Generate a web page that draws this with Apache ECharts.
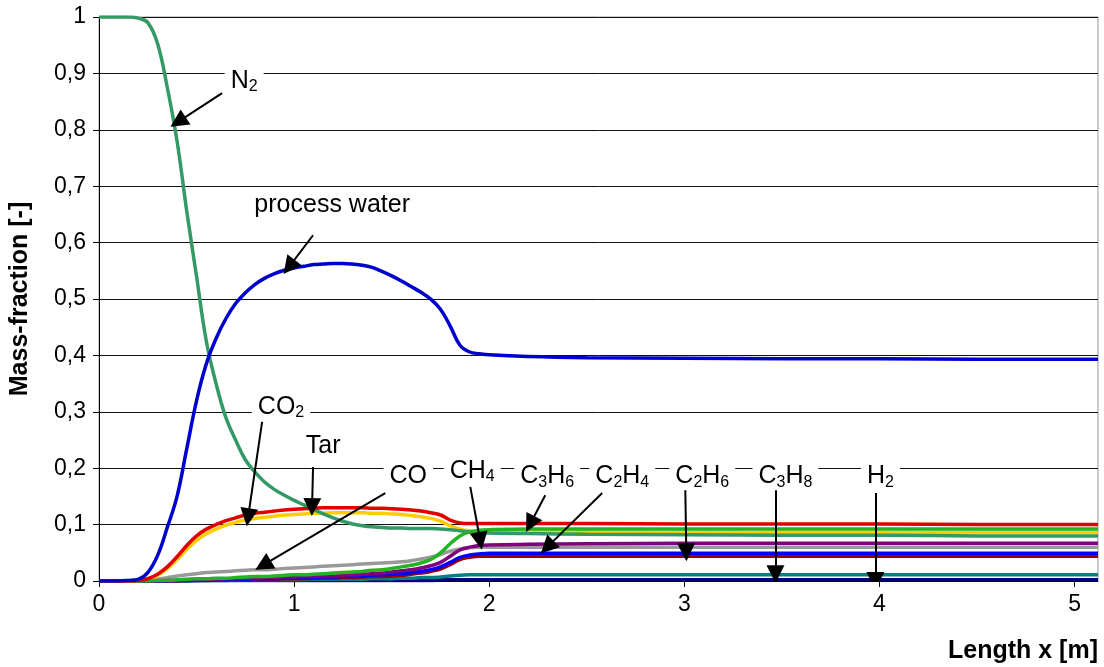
<!DOCTYPE html>
<html>
<head>
<meta charset="utf-8">
<script src="https://cdn.jsdelivr.net/npm/echarts@6/dist/echarts.min.js"></script>
<style>
html,body{margin:0;padding:0;background:#fff;}
#chart{width:1104px;height:667px;}
</style>
</head>
<body>
<div id="chart"></div>
<script>
// ---- data ----
const xs = [0,0.05,0.1,0.15,0.2,0.25,0.3,0.35,0.4,0.45,
            0.5,0.55,0.6,0.65,0.7,0.75,0.8,0.85,0.9,0.95,
            1.0,1.05,1.1,1.15,1.2,1.25,1.3,1.35,1.4,1.45,
            1.5,1.55,1.6,1.65,1.7,1.75,1.8,1.85,1.9,1.95,
            2.0,2.2,2.5,3.0,3.5,4.0,4.5,5.12];
const yN2   = [1,1,1,1,0.998,0.99,0.953,0.875,0.78,0.655,
               0.54,0.425,0.35,0.29,0.25,0.215,0.193,0.175,0.162,0.152,
               0.143,0.135,0.127,0.119,0.112,0.106,0.101,0.098,0.096,0.095,
               0.094,0.094,0.093,0.093,0.093,0.092,0.091,0.089,0.087,0.086,
               0.085,0.084,0.083,0.082,0.081,0.081,0.080,0.080];
const yWater= [0,0,0,0.001,0.003,0.015,0.045,0.095,0.15,0.235,
               0.32,0.385,0.43,0.465,0.492,0.511,0.526,0.537,0.545,0.551,
               0.555,0.558,0.561,0.562,0.563,0.563,0.562,0.56,0.556,0.549,
               0.541,0.532,0.522,0.512,0.5,0.482,0.452,0.418,0.406,0.403,
               0.401,0.398,0.396,0.395,0.394,0.394,0.393,0.393];
const yCO2  = [0,0,0,0,0.001,0.004,0.012,0.025,0.043,0.063,
               0.08,0.092,0.1,0.107,0.112,0.117,0.12,0.122,0.124,0.126,
               0.127,0.128,0.129,0.13,0.13,0.13,0.13,0.13,0.129,0.129,
               0.128,0.127,0.126,0.124,0.121,0.117,0.108,0.103,0.102,0.102,
               0.102,0.102,0.102,0.101,0.101,0.101,0.1,0.1];
const yTar  = [0,0,0,0,0.001,0.003,0.01,0.022,0.038,0.056,
               0.072,0.084,0.092,0.099,0.104,0.108,0.111,0.113,0.115,0.117,
               0.118,0.119,0.12,0.12,0.121,0.121,0.121,0.121,0.12,0.12,
               0.119,0.118,0.116,0.114,0.111,0.106,0.098,0.092,0.089,0.088,
               0.087,0.087,0.087,0.086,0.086,0.086,0.086,0.086];
const yCO   = [0,0,0,0,0,0.001,0.003,0.006,0.009,0.011,
               0.013,0.015,0.016,0.017,0.018,0.019,0.02,0.02,0.021,0.022,
               0.023,0.024,0.025,0.026,0.027,0.028,0.029,0.03,0.031,0.032,
               0.033,0.034,0.036,0.039,0.042,0.047,0.053,0.057,0.059,0.06,
               0.06,0.06,0.06,0.06,0.06,0.06,0.06,0.06];
const yCH4  = [0,0,0,0,0,0,0.001,0.001,0.002,0.003,
               0.004,0.004,0.005,0.005,0.006,0.007,0.008,0.008,0.009,0.01,
               0.011,0.011,0.012,0.013,0.014,0.015,0.016,0.017,0.019,0.02,
               0.022,0.025,0.028,0.032,0.038,0.05,0.066,0.08,0.087,0.09,
               0.091,0.092,0.092,0.092,0.092,0.092,0.092,0.092];
const yC2H4 = [0,0,0,0,0,0,0,0.001,0.001,0.002,
               0.002,0.003,0.003,0.004,0.004,0.005,0.005,0.006,0.006,0.007,
               0.007,0.008,0.008,0.009,0.009,0.01,0.011,0.012,0.013,0.014,
               0.016,0.018,0.02,0.023,0.027,0.033,0.044,0.055,0.06,0.063,
               0.064,0.065,0.066,0.067,0.067,0.067,0.067,0.067];
const yC2H6 = [0,0,0,0,0,0,0,0,0.001,0.001,
               0.001,0.002,0.002,0.002,0.003,0.003,0.004,0.004,0.004,0.005,
               0.005,0.006,0.006,0.007,0.007,0.008,0.008,0.009,0.01,0.011,
               0.012,0.013,0.015,0.017,0.02,0.025,0.033,0.042,0.046,0.048,
               0.049,0.049,0.049,0.049,0.049,0.049,0.049,0.049];
const yC3H6 = [0,0,0,0,0,0,0,0,0,0.001,
               0.001,0.001,0.002,0.002,0.002,0.002,0.003,0.003,0.003,0.004,
               0.004,0.004,0.005,0.005,0.005,0.006,0.006,0.007,0.008,0.008,
               0.009,0.01,0.012,0.014,0.017,0.021,0.029,0.038,0.042,0.044,
               0.044,0.044,0.044,0.044,0.044,0.044,0.044,0.044];
const yC3H8 = [0,0,0,0,0,0,0,0,0.001,0.001,
               0.001,0.001,0.001,0.001,0.002,0.002,0.002,0.002,0.002,0.002,
               0.002,0.002,0.003,0.003,0.003,0.003,0.003,0.003,0.004,0.004,
               0.004,0.005,0.005,0.006,0.006,0.007,0.009,0.01,0.011,0.011,
               0.011,0.011,0.011,0.011,0.011,0.011,0.011,0.011];
const yH2   = [0,0,0,0,0,0,0,0,0,0,
               0.001,0.001,0.001,0.001,0.001,0.001,0.001,0.001,0.001,0.001,
               0.001,0.001,0.001,0.001,0.001,0.001,0.001,0.001,0.001,0.001,
               0.001,0.001,0.001,0.001,0.001,0.002,0.002,0.002,0.002,0.002,
               0.002,0.002,0.002,0.002,0.002,0.002,0.002,0.002];

const xTicks = [0,1,2,3,4,5];
const yTicks = [0,0.1,0.2,0.3,0.4,0.5,0.6,0.7,0.8,0.9,1];

// annotation texts, their anchor (data coords) and arrow start/end (data coords)
const annText  = ['N2','process water','CO2','Tar','CO','CH4','C3H6','C2H4','C2H6','C3H8','H2'];
const annAt    = [[0.744,0.887],[1.195,0.667],[0.933,0.309],[1.149,0.239],[1.585,0.186],[1.913,0.195],[2.297,0.186],[2.682,0.186],[3.092,0.186],[3.518,0.186],[4.005,0.186]];
const annFrom  = [[0.631,0.865],[1.097,0.613],[0.836,0.282],[1.097,0.202],[1.467,0.156],[1.903,0.167],[2.287,0.152],[2.579,0.156],[3.005,0.161],[3.467,0.161],[3.979,0.156]];
const annTo    = [[0.405,0.814],[0.974,0.557],[0.764,0.113],[1.092,0.131],[0.841,0.028],[1.954,0.071],[2.21,0.101],[2.297,0.06],[3.01,0.051],[3.467,0.012],[3.979,0.0]];

// ---- chart ----
const FONT = '"Liberation Sans", Arial, sans-serif';
function pairs(ys){ return xs.map((x,i)=>[x,ys[i]]); }
function rich(t){
  return t.replace(/([^0-9]+)|([0-9]+)/g,(m,a,b)=> a ? '{n|'+a+'}' : '{s|'+b+'}');
}
function line(name, ys, color, width, z){
  return {name, type:'line', data:pairs(ys), showSymbol:false, smooth:0.4,
    lineStyle:{color, width}, itemStyle:{color}, z, animation:false};
}

const chart = echarts.init(document.getElementById('chart'), null, {renderer:'canvas'});
chart.setOption({
  animation:false,
  backgroundColor:'#fff',
  grid:{left:99, right:6, top:17, bottom:86, show:true, borderColor:'#9a9a9a', borderWidth:1},
  xAxis:{
    type:'value', min:0, max:5.12,
    name:'Length x [m]', nameLocation:'end', nameGap:0,
    nameTextStyle:{fontFamily:FONT, fontSize:25, fontWeight:'bold', color:'#000', align:'right', verticalAlign:'top', padding:[58,0,0,0]},
    axisLine:{show:true, onZero:false, lineStyle:{color:'#000', width:1}},
    axisTick:{show:true, length:6, lineStyle:{color:'#000'}, customValues:xTicks},
    axisLabel:{fontFamily:FONT, fontSize:23, color:'#000', margin:12, customValues:xTicks},
    splitLine:{show:false}
  },
  yAxis:{
    type:'value', min:0, max:1, interval:0.1,
    name:'Mass-fraction [-]', nameLocation:'middle', nameGap:66,
    nameTextStyle:{fontFamily:FONT, fontSize:25, fontWeight:'bold', color:'#000'},
    axisLine:{show:true, lineStyle:{color:'#000', width:1}},
    axisTick:{show:true, length:6, lineStyle:{color:'#000'}},
    axisLabel:{fontFamily:FONT, fontSize:23, color:'#000', margin:13,
      formatter:v=>{ const i = yTicks.findIndex(t=>Math.abs(t-v)<1e-9); const t = i>=0?yTicks[i]:v; return (t===0||t===1)?String(t):t.toFixed(1).replace('.',','); }},
    splitLine:{show:true, lineStyle:{color:'#111', width:1}}
  },
  series:[
    line('H2',  yH2,  '#000080', 3.5, 2),
    line('C3H8',yC3H8,'#008080', 3.5, 2),
    line('C3H6',yC3H6,'#990000', 3.5, 2),
    line('C2H6',yC2H6,'#0000FF', 3.5, 2),
    line('CO',  yCO,  '#999999', 3.5, 2),
    line('C2H4',yC2H4,'#800080', 3.5, 2),
    line('Tar', yTar, '#FFCC00', 3.5, 2),
    line('N2',  yN2,  '#339966', 3.5, 2),
    line('CH4', yCH4, '#22B422', 3.5, 2),
    line('CO2', yCO2, '#E00000', 3.5, 2),
    line('process water', yWater, '#0000CC', 3.5, 2),
    {
      type:'lines', coordinateSystem:'cartesian2d', z:5, animation:false,
      symbol:['none','triangle'], symbolSize:[13,18],
      lineStyle:{color:'#000', width:2, opacity:1, curveness:0},
      data: annFrom.map((f,i)=>({coords:[f, annTo[i]]}))
    },
    {
      type:'scatter', z:6, animation:false, symbol:'circle', symbolSize:2, silent:true,
      itemStyle:{color:'rgba(255,255,255,0)'},
      data: annAt,
      label:{show:true, position:'inside', backgroundColor:'#fff', padding:[0,6], color:'#000',
        textBorderWidth:0, textShadowBlur:0, opacity:1,
        formatter:p=>rich(annText[p.dataIndex]),
        rich:{
          n:{fontFamily:FONT, fontSize:25, color:'#000', lineHeight:28, verticalAlign:'middle', textBorderWidth:0},
          s:{fontFamily:FONT, fontSize:16, color:'#000', lineHeight:16, verticalAlign:'bottom', textBorderWidth:0}
        }
      }
    }
  ]
});
</script>
</body>
</html>
